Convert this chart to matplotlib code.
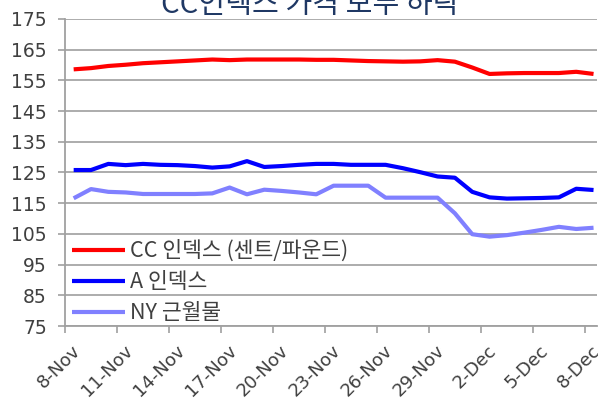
import numpy as np
import matplotlib
matplotlib.use("Agg")
import matplotlib.pyplot as plt
from matplotlib.transforms import ScaledTranslation

# daily values, 8-Nov .. 8-Dec
days = np.arange(31)
tick_labels = ["8-Nov", "11-Nov", "14-Nov", "17-Nov", "20-Nov", "23-Nov",
               "26-Nov", "29-Nov", "2-Dec", "5-Dec", "8-Dec"]

cc_index = [158.6, 159.0, 159.7, 160.1, 160.6, 160.9, 161.2, 161.5, 161.8, 161.6,
            161.8, 161.8, 161.8, 161.8, 161.7, 161.7, 161.5, 161.3, 161.2, 161.1,
            161.2, 161.6, 161.1, 159.2, 157.1, 157.3, 157.4, 157.4, 157.4, 157.8,
            157.1]
a_index = [125.8, 125.8, 127.8, 127.4, 127.8, 127.5, 127.4, 127.1, 126.6, 127.0,
           128.7, 126.8, 127.1, 127.5, 127.8, 127.8, 127.5, 127.5, 127.5, 126.4,
           125.1, 123.7, 123.3, 118.7, 116.9, 116.5, 116.6, 116.7, 116.9, 119.7,
           119.3]
ny_front = [116.6, 119.6, 118.7, 118.5, 118.0, 118.0, 118.0, 118.0, 118.2, 120.1,
            117.9, 119.4, 119.0, 118.5, 117.9, 120.7, 120.7, 120.7, 116.8, 116.8,
            116.8, 116.8, 111.7, 104.9, 104.1, 104.6, 105.4, 106.3, 107.3, 106.6,
            107.0]

labels = ["CC 인덱스 (센트/파운드)", "A 인덱스", "NY 근월물"]
colors = ["#FF0000", "#0000FF", "#8080FF"]

kfont = ["Noto Sans CJK KR", "DejaVu Sans"]
grey = "#404040"

fig = plt.figure(figsize=(5.98, 4.01), dpi=100)
ax = fig.add_axes([65 / 598, 1 - 326 / 401, 532 / 598, 307 / 401])

for vals, lab, col in zip([cc_index, a_index, ny_front], labels, colors):
    ax.plot(days, vals, color=col, lw=3, label=lab, solid_capstyle="butt")

ax.set_ylim(75, 175)
ax.set_yticks(np.arange(75, 176, 10))
ax.set_xlim(-0.5, 30.2)

# ticks on category boundaries, labels on category centres
ax.set_xticks(days[::3] - 0.5)
ax.set_xticklabels([])
ax.set_xticks(days[::3], minor=True)
ax.set_xticklabels(tick_labels, minor=True, rotation=45, ha="right",
                   va="center", rotation_mode="anchor", family="DejaVu Sans",
                   fontsize=13, color=grey)
ax.tick_params(axis="x", which="minor", length=0, pad=16)
ax.tick_params(axis="x", which="major", length=5, width=1.2, color="#A0A0A0")
ax.tick_params(axis="y", length=5, width=1.2, color="#A0A0A0", pad=8,
               labelsize=13.5, labelcolor=grey)
shift = ScaledTranslation(4 / 100, 0, fig.dpi_scale_trans)
for t in ax.xaxis.get_minorticklabels():
    t.set_transform(t.get_transform() + shift)

ax.grid(axis="y", color="#A6A6A6", lw=1.3)
ax.set_axisbelow(True)
for s in ["top", "right"]:
    ax.spines[s].set_visible(False)
for s in ["left", "bottom"]:
    ax.spines[s].set_color("#A0A0A0")
    ax.spines[s].set_linewidth(1.3)

leg = ax.legend(loc="upper left", bbox_to_anchor=(72 / 598, 1 - 240 / 401),
                bbox_transform=fig.transFigure, frameon=False, borderpad=0,
                borderaxespad=0, handlelength=2.45, handletextpad=0.25,
                labelspacing=0.42, prop={"family": kfont, "size": 15.5})
for t in leg.get_texts():
    t.set_color(grey)

fig.text(310 / 598, 1 - 13 / 401, "CC인덱스 가격 모두 하락", ha="center",
         va="baseline", fontsize=21, color="#1F3864", family=kfont)

fig.savefig("out.png", dpi=100)
